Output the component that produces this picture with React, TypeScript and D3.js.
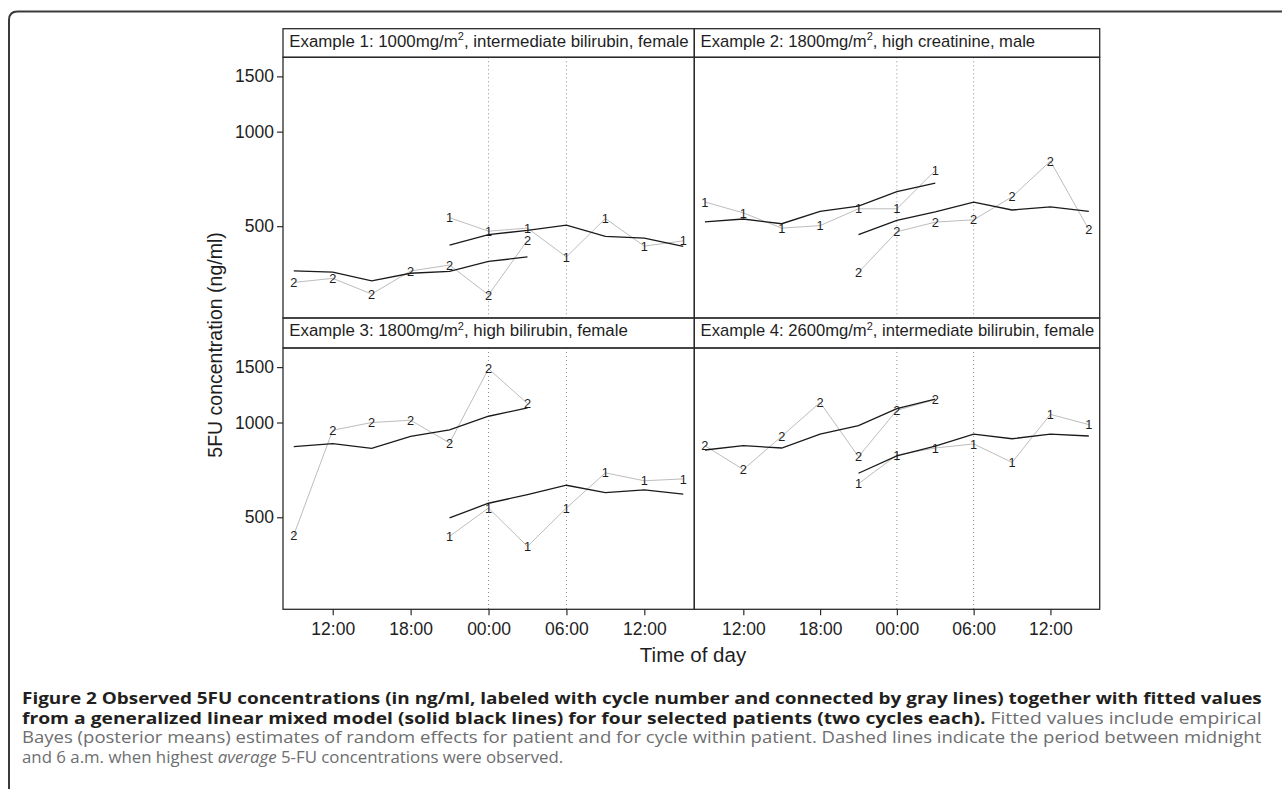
import React, { useRef, useEffect } from 'react';
import * as d3 from 'd3';

// sampling times in hours from midnight of the first day (9:00 ... 15:00 next day)
const earlyTimes = [9, 12, 15, 18, 21, 24, 27];
const lateTimes = [21, 24, 27, 30, 33, 36, 39];

const tickHours = [12, 18, 24, 30, 36];
const tickLabels = ['12:00', '18:00', '00:00', '06:00', '12:00'];
const yTicks = [500, 1000, 1500];

const stripHead = ['Example 1: 1000mg/m', 'Example 2: 1800mg/m', 'Example 3: 1800mg/m', 'Example 4: 2600mg/m'];
const stripTail = [', intermediate bilirubin, female', ', high creatinine, male', ', high bilirubin, female', ', intermediate bilirubin, female'];

// cycle number shown on the early (9:00-03:00) and late (21:00-15:00) runs
const earlyCycle = ['2', '1', '2', '2'];
const lateCycle = ['1', '2', '1', '1'];

// Example 1
const ex1EarlyObs = [331, 341, 304, 360, 376, 302, 451];
const ex1EarlyFit = [360, 357, 335, 354, 359, 386, 399];
const ex1LateObs = [532, 482, 493, 399, 529, 432, 449];
const ex1LateFit = [435, 470, 485, 504, 464, 458, 431];
// Example 2
const ex2EarlyObs = [597, 551, 493, 502, 568, 568, 752];
const ex2EarlyFit = [516, 527, 509, 557, 579, 644, 686];
const ex2LateObs = [356, 480, 515, 524, 620, 806, 488];
const ex2LateFit = [470, 522, 555, 596, 563, 576, 557];
// Example 3
const ex3EarlyObs = [439, 945, 1000, 1017, 861, 1482, 1149];
const ex3EarlyFit = [838, 857, 828, 904, 947, 1047, 1113];
const ex3LateObs = [435, 535, 404, 535, 692, 653, 662];
const ex3LateFit = [498, 554, 590, 632, 599, 611, 592];
// Example 4
const ex4EarlyObs = [844, 709, 904, 1158, 779, 1094, 1183];
const ex4EarlyFit = [818, 844, 830, 919, 977, 1107, 1186];
const ex4LateObs = [639, 788, 830, 855, 747, 1061, 985];
const ex4LateFit = [690, 784, 842, 919, 888, 919, 906];

const earlyObs = [ex1EarlyObs, ex2EarlyObs, ex3EarlyObs, ex4EarlyObs];
const earlyFit = [ex1EarlyFit, ex2EarlyFit, ex3EarlyFit, ex4EarlyFit];
const lateObs = [ex1LateObs, ex2LateObs, ex3LateObs, ex4LateObs];
const lateFit = [ex1LateFit, ex2LateFit, ex3LateFit, ex4LateFit];

// caption, one entry per printed line, split into [text, style] runs
const captionLines = [
    [['Figure 2 Observed 5FU concentrations (in ng/ml, labeled with cycle number and connected by gray lines) together with fitted values', 'b']],
    [['from a generalized linear mixed model (solid black lines) for four selected patients (two cycles each).', 'b'], [' Fitted values include empirical', 'r']],
    [['Bayes (posterior means) estimates of random effects for patient and for cycle within patient. Dashed lines indicate the period between midnight', 'r']],
    [['and 6 a.m. when highest ', 'r'], ['average', 'i'], [' 5-FU concentrations were observed.', 'r']]
];
const captionWidths = [1240, 1240, 1240, 541];

const W = 1282, H = 789;
const cols = [[283, 694.3], [694.3, 1099.7]];
const rows = [
    {strip: 28.7, top: 57.3, bottom: 318},
    {strip: 318, top: 348, bottom: 609.3}
];
const font = "'Liberation Sans', Arial, Helvetica, sans-serif";
const capFont = "'Open Sans', 'Noto Sans', sans-serif";

function Chart(){
    const ref = useRef(null);

    useEffect(() => {
        let svg = d3.select(ref.current);
        svg.selectAll('*').remove();
        draw(svg);
        if(document.fonts) document.fonts.ready.then(() => fitCaption(svg));
    }, []);

    // squeeze each caption line horizontally to the printed width (condensed face)
    const fitCaption = (svg) => {
        svg.selectAll('.capline').each(function(d, k){
            const natural = this.getComputedTextLength();
            const s = captionWidths[k] / natural;
            d3.select(this).attr('transform', 'translate(22,' + (704 + k * 19.5) + ') scale(' + s + ',1)');
        });
    };

    const draw = (svg) => {
        svg.append('rect').attr('width', W).attr('height', H).attr('fill', 'white');

        // outer frame of the figure
        svg.append('path')
            .attr('d', 'M9,789 L9,20 Q9,11.5 17.5,11.5 L1282,11.5')
            .attr('fill', 'none')
            .attr('stroke', '#3a3a3a')
            .attr('stroke-width', 2);

        for(let i = 0; i < 4; i++){
            const col = cols[i % 2], row = rows[Math.floor(i / 2)];
            const x = d3.scaleLinear().domain([8.17, 39.85]).range(col);
            const y = d3.scaleLog().domain([255, 1725]).range([row.bottom, row.top]);
            const g = svg.append('g');

            // dotted midnight / 6 a.m. markers
            g.selectAll('.night')
                .data([24, 30])
                .enter()
                .append('line')
                .attr('x1', d => x(d)).attr('x2', d => x(d))
                .attr('y1', row.top).attr('y2', row.bottom)
                .attr('stroke', '#8c8c8c')
                .attr('stroke-width', 1)
                .attr('stroke-dasharray', '1,3');

            const line = d3.line().x(d => x(d[0])).y(d => y(d[1]));
            const runs = [
                {t: earlyTimes, obs: earlyObs[i], fit: earlyFit[i], c: earlyCycle[i]},
                {t: lateTimes, obs: lateObs[i], fit: lateFit[i], c: lateCycle[i]}
            ];
            runs.forEach(r => {
                const pts = r.t.map((t, k) => [t, r.obs[k]]);
                g.append('path')
                    .attr('d', line(pts))
                    .attr('fill', 'none')
                    .attr('stroke', '#bdbdbd')
                    .attr('stroke-width', 1);
            });
            runs.forEach(r => {
                const pts = r.t.map((t, k) => [t, r.obs[k]]);
                g.selectAll(null)
                    .data(pts)
                    .enter()
                    .append('text')
                    .attr('x', d => x(d[0]))
                    .attr('y', d => y(d[1]))
                    .attr('dy', '0.36em')
                    .attr('text-anchor', 'middle')
                    .attr('font-family', font)
                    .attr('font-size', 12.8)
                    .attr('fill', '#1e1e1e')
                    .text(r.c);
            });
            runs.forEach(r => {
                const pts = r.t.map((t, k) => [t, r.fit[k]]);
                g.append('path')
                    .attr('d', line(pts))
                    .attr('fill', 'none')
                    .attr('stroke', '#1a1a1a')
                    .attr('stroke-width', 1.3);
            });

            // plot box and strip
            g.append('rect')
                .attr('x', col[0]).attr('y', row.top)
                .attr('width', col[1] - col[0]).attr('height', row.bottom - row.top)
                .attr('fill', 'none').attr('stroke', '#2b2b2b').attr('stroke-width', 1.3);
            g.append('rect')
                .attr('x', col[0]).attr('y', row.strip)
                .attr('width', col[1] - col[0]).attr('height', row.top - row.strip)
                .attr('fill', 'none').attr('stroke', '#2b2b2b').attr('stroke-width', 1.3);
            const st = g.append('text')
                .attr('x', col[0] + 6.3)
                .attr('y', row.strip + 18.2)
                .attr('font-family', font)
                .attr('font-size', i % 2 === 0 ? 16.85 : 16.6)
                .attr('fill', '#1e1e1e');
            st.append('tspan').text(stripHead[i]);
            st.append('tspan').attr('dy', -6.5).attr('font-size', 11).text('2');
            st.append('tspan').attr('dy', 6.5).text(stripTail[i]);

            if(i % 2 === 0){
                const ax = g.append('g')
                    .attr('transform', 'translate(' + col[0] + ',0)')
                    .call(d3.axisLeft(y).tickValues(yTicks).tickFormat(d3.format('d')).tickSize(6).tickPadding(3));
                ax.select('.domain').remove();
                ax.selectAll('line').attr('stroke', '#2b2b2b').attr('stroke-width', 1.2);
                ax.selectAll('text')
                    .attr('font-family', font)
                    .attr('font-size', 17.5)
                    .attr('fill', '#1e1e1e');
            }
            if(i >= 2){
                const ax = g.append('g')
                    .attr('transform', 'translate(0,' + row.bottom + ')')
                    .call(d3.axisBottom(x).tickValues(tickHours).tickFormat((d, k) => tickLabels[k]).tickSize(6).tickPadding(7));
                ax.select('.domain').remove();
                ax.selectAll('line').attr('stroke', '#2b2b2b').attr('stroke-width', 1.2);
                ax.selectAll('text')
                    .attr('font-family', font)
                    .attr('font-size', 17.5)
                    .attr('fill', '#1e1e1e');
            }
        }

        svg.append('text')
            .attr('x', 693)
            .attr('y', 662)
            .attr('text-anchor', 'middle')
            .attr('font-family', font)
            .attr('font-size', 20.5)
            .attr('fill', '#1e1e1e')
            .text('Time of day');

        svg.append('text')
            .attr('transform', 'translate(222,345) rotate(-90)')
            .attr('text-anchor', 'middle')
            .attr('font-family', font)
            .attr('font-size', 19.5)
            .attr('fill', '#1e1e1e')
            .text('5FU concentration (ng/ml)');

        // caption
        const lines = svg.selectAll('.capline')
            .data(captionLines)
            .enter()
            .append('text')
            .attr('class', 'capline')
            .attr('font-family', capFont)
            .attr('font-size', 16.5);
        lines.selectAll('tspan')
            .data(d => d)
            .enter()
            .append('tspan')
            .attr('font-weight', d => d[1] === 'b' ? 'bold' : 'normal')
            .attr('font-style', d => d[1] === 'i' ? 'italic' : 'normal')
            .attr('fill', d => d[1] === 'b' ? '#231f20' : '#6d6e70')
            .text(d => d[0]);
        fitCaption(svg);
    }

    return (
        <div style={{position: 'absolute', left: 0, top: 0}}>
            <svg ref={ref} width={W} height={H} style={{display: 'block'}}></svg>
        </div>
    );
}

export default function App(){
    return <Chart />;
}
